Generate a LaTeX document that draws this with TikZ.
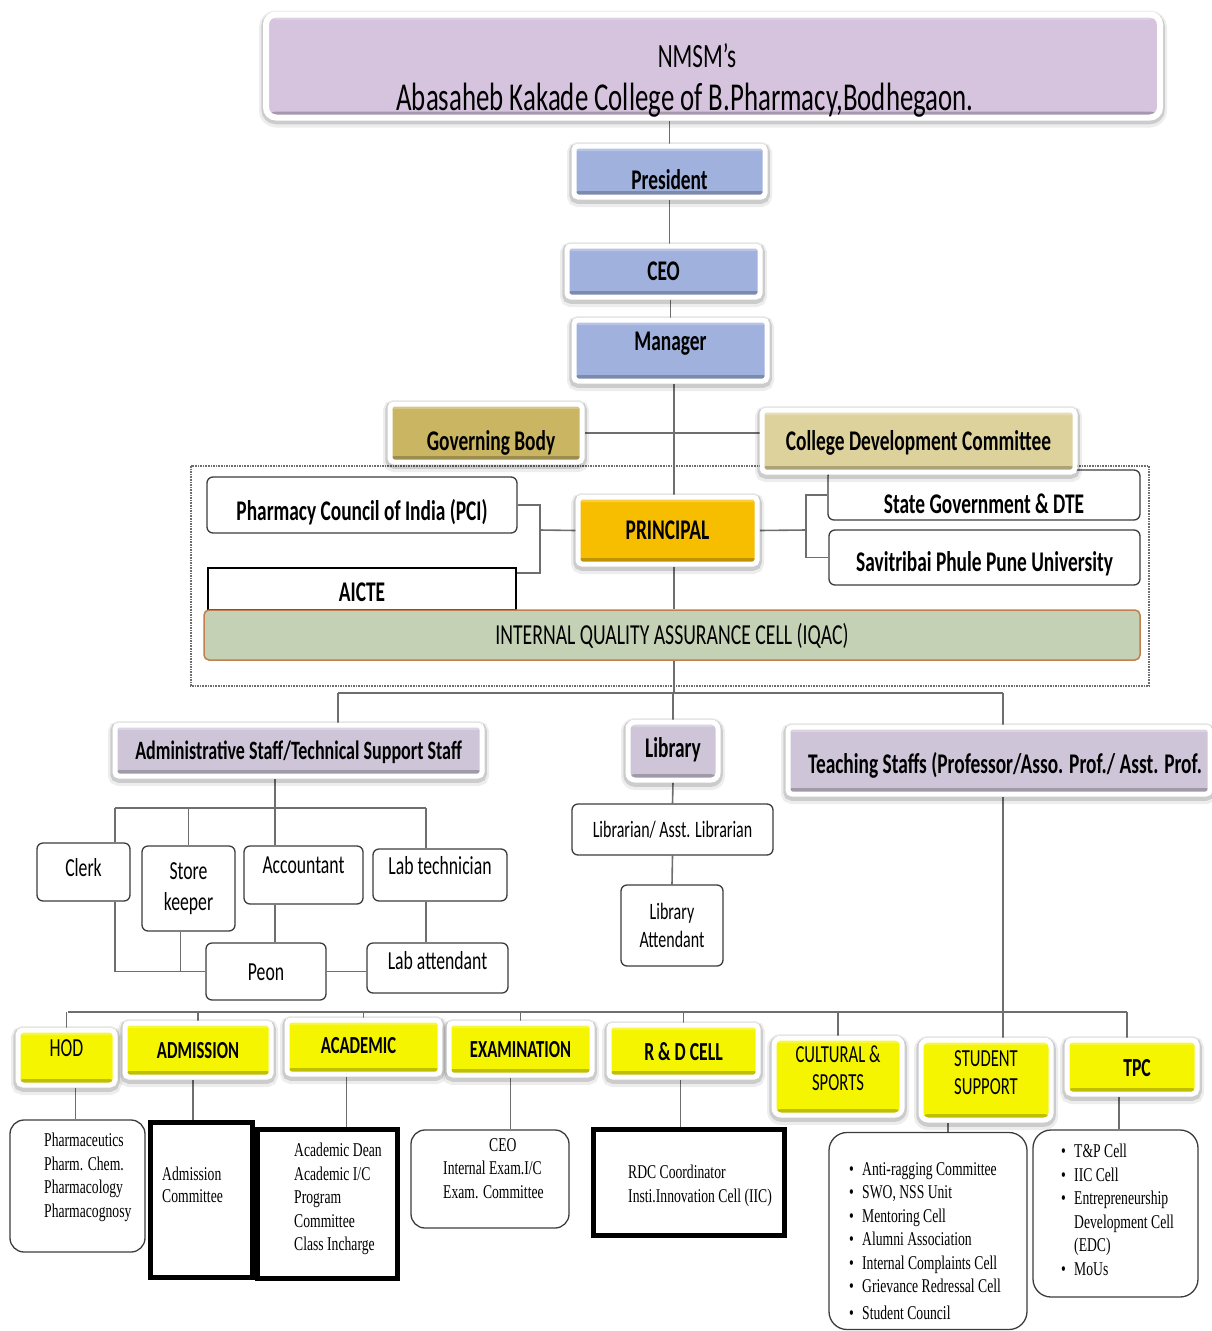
\documentclass[tikz,border=0pt]{standalone}
\usepackage{fontspec}
\setmainfont{Carlito}[FakeStretch=0.68]
\newfontfamily\tnr{Liberation Serif}[FakeStretch=0.70]
\usetikzlibrary{backgrounds}

\definecolor{titlepurple}{RGB}{214,196,222}
\definecolor{topblue}{RGB}{160,177,221}
\definecolor{gbgold}{RGB}{201,181,98}
\definecolor{cdckhaki}{RGB}{222,210,156}
\definecolor{prinorange}{RGB}{247,190,0}
\definecolor{iqacgreen}{RGB}{196,209,181}
\definecolor{iqacedge}{RGB}{192,128,80}
\definecolor{staffgray}{RGB}{206,198,216}
\definecolor{deptyellow}{RGB}{245,245,0}
\definecolor{linkgray}{RGB}{110,110,110}
\definecolor{edgegray}{RGB}{60,60,60}

\newcommand\boxfont{\bfseries\fontsize{28.5}{34}\selectfont}
\newcommand\smallbox{\fontsize{26}{31}\selectfont}
\newcommand\deptfont{\fontsize{24.5}{28}\selectfont}
\newcommand\listfont{\tnr\fontsize{19.5}{23.5}\selectfont}
\newcommand\blt{\makebox[13pt][l]{\textbullet}}

\tikzset{
  every node/.style={inner sep=0pt, text=black},
  framed/.style={draw=white, line width=5pt, fill=#1, rounded corners=4pt,
    preaction={draw=black, draw opacity=.07, line width=14pt, transform canvas={yshift=-3pt}},
    preaction={draw=black, draw opacity=.14, line width=9.5pt, transform canvas={yshift=-2pt}},
    path picture={
      \fill[black, opacity=.22] (path picture bounding box.south west) rectangle ([yshift=6pt]path picture bounding box.south east);
      \fill[white, opacity=.25] (path picture bounding box.north west) rectangle ([yshift=-5pt]path picture bounding box.north east);}},
  plain/.style={draw=edgegray, line width=1.3pt, fill=white, rounded corners=6pt},
  heavy/.style={draw=black, line width=5pt, fill=white},
  link/.style={draw=linkgray, line width=1.6pt},
  lbl/.style={text height=#1, text depth=0pt}, lbl/.default=18pt,
  lblup/.style={text depth=#1}
}

\begin{document}
\begin{tikzpicture}[x=1pt,y=-1pt]
\useasboundingbox (0,0) rectangle (1212,1331);

\coordinate (spine) at (674,0);
\coordinate (topbus) at (674,693);
\coordinate (busA) at (338,693);
\coordinate (busT) at (1003,693);
\coordinate (brL) at (540,530);
\coordinate (brR) at (806,530);
\coordinate (adbus) at (275,808);
\coordinate (adL) at (115,808);
\coordinate (adR) at (426,808);
\coordinate (dbus) at (68,1012);
\coordinate (dbusR) at (1127,1012);

\node[framed=titlepurple, rounded corners=10pt, line width=6pt, minimum width=894pt, minimum height=103pt] (title) at (713,66) {};
\node[lbl=22pt, font=\fontsize{34}{40}\selectfont] (nmsm) at (697,56) {NMSM’s};
\node[lbl=25pt, font=\fontsize{39.5}{44}\selectfont] (college) at (685,98) {Abasaheb Kakade College of B.Pharmacy,Bodhegaon.};

\node[framed=topblue, minimum width=191pt, minimum height=51pt, lbl=36pt, font=\boxfont] (pres) at (669.5,171.5) {President};
\node[framed=topblue, minimum width=193pt, minimum height=51pt, lbl, font=\boxfont] (ceo) at (663.5,271.5) {CEO};
\node[framed=topblue, minimum width=193pt, minimum height=61pt, lbl, lblup=18pt, font=\boxfont] (mgr) at (670.5,350.5) {Manager};
\node[framed=gbgold, minimum width=192pt, minimum height=58pt, lbl=34pt, font=\boxfont] (gb) at (486,433) {\hspace*{10pt}Governing Body};
\node[plain, minimum width=312pt, minimum height=50pt, lbl=36pt, font=\boxfont] (state) at (984,495) {State Government \& DTE};
\node[framed=cdckhaki, minimum width=313pt, minimum height=62pt, lbl, font=\boxfont] (cdc) at (918.5,441) {College Development Committee};
\node[plain, minimum width=311pt, minimum height=55pt, lbl=28pt, font=\boxfont] (sppu) at (984.5,557.5) {Savitribai Phule Pune University};
\node[plain, minimum width=310pt, minimum height=56pt, lbl=30pt, font=\boxfont] (pci) at (362,505) {Pharmacy Council of India (PCI)};
\node[draw=black, line width=1.3pt, fill=white, minimum width=308pt, minimum height=42pt, lbl=24pt, font=\boxfont] (aicte) at (362,589) {AICTE};
\node[framed=prinorange, minimum width=179pt, minimum height=67pt, lbl, font=\boxfont] (prin) at (667.5,530.5) {PRINCIPAL};
\node[draw=iqacedge, fill=iqacgreen, line width=1.5pt, rounded corners=5pt, minimum width=936pt, minimum height=50pt, lbl=19pt, font=\fontsize{29}{34}\selectfont] (iqac) at (672,635) {INTERNAL QUALITY ASSURANCE CELL (IQAC)};

\node[framed=staffgray, minimum width=367pt, minimum height=51pt, lbl=17pt, font=\bfseries\fontsize{26.5}{32}\selectfont] (admin) at (298.5,750.5) {Administrative Staff/Technical Support Staff};
\node[framed=staffgray, rounded corners=7pt, minimum width=90pt, minimum height=58pt, lbl, lblup=6pt, font=\boxfont] (lib) at (673,751) {Library};
\node[framed=staffgray, minimum width=422pt, minimum height=67pt, lbl=26pt, font=\boxfont] (teach) at (999,760.5) {\hspace*{12pt}Teaching Staffs (Professor/Asso. Prof./ Asst. Prof.};

\node[plain, minimum width=93pt, minimum height=58pt, lbl=17pt, lblup=8pt, font=\smallbox] (clerk) at (83.5,872) {Clerk};
\node[plain, minimum width=93pt, minimum height=85pt, align=center, font=\smallbox] (store) at (188.5,888.5) {Store\\keeper};
\node[plain, minimum width=119pt, minimum height=58pt, lbl=17pt, lblup=20pt, font=\smallbox] (acct) at (303.5,875) {Accountant};
\node[plain, minimum width=134pt, minimum height=52pt, lbl=17pt, lblup=18pt, font=\smallbox] (labtech) at (440,875) {Lab technician};
\node[plain, minimum width=120pt, minimum height=57pt, lbl=17pt, font=\smallbox] (peon) at (266,971.5) {Peon};
\node[plain, minimum width=141pt, minimum height=50pt, lbl=17pt, lblup=14pt, font=\smallbox] (labatt) at (437.5,968) {Lab attendant};
\node[plain, minimum width=201pt, minimum height=51pt, lbl=15pt, font=\fontsize{23.5}{28}\selectfont] (librarian) at (672.5,829.5) {Librarian/ Asst. Librarian};
\node[plain, minimum width=102pt, minimum height=81pt, align=center, font=\fontsize{23.5}{28}\selectfont] (libatt) at (672,925.5) {Library\\Attendant};

\node[framed=deptyellow, rounded corners=5pt, minimum width=97pt, minimum height=55pt, lbl=17pt, lblup=20pt, font=\smallbox] (hod) at (66.5,1057.5) {HOD};
\node[framed=deptyellow, minimum width=146pt, minimum height=54pt, lbl=16pt, font=\bfseries\deptfont] (adm) at (198,1050) {ADMISSION};
\node[framed=deptyellow, minimum width=153pt, minimum height=54pt, lbl=16pt, lblup=4pt, font=\bfseries\deptfont] (acad) at (363.5,1047) {ACADEMIC\hspace*{10pt}};
\node[framed=deptyellow, minimum width=143pt, minimum height=52pt, lbl=16pt, font=\bfseries\deptfont] (exam) at (520.5,1049) {EXAMINATION};
\node[framed=deptyellow, minimum width=149pt, minimum height=52pt, lbl=18pt, font=\bfseries\fontsize{26}{31}\selectfont] (rnd) at (683.5,1051) {R \& D CELL};
\node[framed=deptyellow, rounded corners=7pt, minimum width=128pt, minimum height=77pt, lbl=0pt, lblup=29pt, font=\deptfont] (cult) at (838,1076.5) {\begin{tabular}[t]{@{}c@{}}CULTURAL \&\\SPORTS\end{tabular}};
\node[framed=deptyellow, rounded corners=7pt, minimum width=130pt, minimum height=80pt, lbl=0pt, lblup=28pt, font=\deptfont] (stud) at (986,1080) {\begin{tabular}[t]{@{}c@{}}STUDENT\\SUPPORT\end{tabular}};
\node[framed=deptyellow, rounded corners=5pt, minimum width=130pt, minimum height=54pt, lbl=18pt, font=\bfseries\fontsize{26}{31}\selectfont] (tpc) at (1132,1067) {\hspace*{10pt}TPC};

\node[plain, rounded corners=14pt, minimum width=135pt, minimum height=132pt] (hodlist) at (77.5,1186) {};
\node[anchor=north west, align=left, font=\listfont] (hodtxt) at (44,1133) {Pharmaceutics\\Pharm. Chem.\\Pharmacology\\Pharmacognosy};
\node[heavy, minimum width=102pt, minimum height=155pt] (admlist) at (201.5,1200) {};
\node[anchor=north west, align=left, font=\listfont] (admtxt) at (162,1167) {Admission\\[-2pt]Committee};
\node[heavy, minimum width=140pt, minimum height=149pt] (acadlist) at (327.5,1204) {};
\node[anchor=north west, align=left, font=\listfont] (acadtxt) at (294,1143) {Academic Dean\\Academic I/C\\Program\\Committee\\Class Incharge};
\node[plain, rounded corners=14pt, minimum width=158pt, minimum height=98pt] (examlist) at (490,1179) {};
\node[anchor=north west, align=left, font=\listfont] (examtxt) at (443,1138) {\hspace*{46pt}CEO\\Internal Exam.I/C\\Exam. Committee};
\node[heavy, minimum width=191pt, minimum height=106pt] (rndlist) at (689,1182.5) {};
\node[anchor=north west, align=left, font=\listfont] (rndtxt) at (628,1165) {RDC Coordinator\\Insti.Innovation Cell (IIC)};
\node[plain, rounded corners=18pt, minimum width=198pt, minimum height=197pt] (studlist) at (928,1231) {};
\node[anchor=north west, align=left, font=\listfont] (studtxt) at (849,1162) {\blt Anti-ragging Committee\\\blt SWO, NSS Unit\\\blt Mentoring Cell\\\blt Alumni Association\\\blt Internal Complaints Cell\\\blt Grievance Redressal Cell\\[3pt]\blt Student Council};
\node[plain, rounded corners=18pt, minimum width=165pt, minimum height=167pt] (tpclist) at (1115.5,1213.5) {};
\node[anchor=north west, align=left, font=\listfont] (tpctxt) at (1061,1144) {\blt T\&P Cell\\\blt IIC Cell\\\blt Entrepreneurship\\\hspace*{13pt}Development Cell\\\hspace*{13pt}(EDC)\\\blt MoUs};

\begin{scope}[on background layer]
\draw[linkgray, line width=1.6pt, densely dotted] (191,466) rectangle (1149,686);
\draw[link] (pres.north) -- (pres.north |- title.south);
\draw[link] (pres.south) -- (pres.south |- ceo.north);
\draw[link] (mgr.north) -- (mgr.north |- ceo.south);
\draw[link] (mgr.south -| spine) -- (prin.north -| spine);
\draw[link] (gb.east) -- (gb.east -| cdc.west);
\draw[link] (pci.east) -| (brL) |- ([yshift=16pt]aicte.east);
\draw[link] (brL) -- (prin.west);
\draw[link] (prin.east) -- (brR);
\draw[link] (state.west) -| (brR) |- (sppu.west);
\draw[link] (prin.south -| spine) -- (iqac.north -| spine);
\draw[link] (iqac.south -| spine) -- (topbus);
\draw[link] (busA) -- (busT);
\draw[link] (busA) -- (busA |- admin.north);
\draw[link] (lib.north |- topbus) -- (lib.north);
\draw[link] (busT) -- (busT |- teach.north);
\draw[link] (adbus |- admin.south) -- (adbus);
\draw[link] (adL) -- (adR);
\draw[link] (adL) -- (adL |- clerk.north);
\draw[link] (store.north |- adbus) -- (store.north);
\draw[link] (adbus) -- (adbus |- acct.north);
\draw[link] (adR) -- (adR |- labtech.north);
\draw[link] (adL |- clerk.south) |- (peon.west);
\draw[link] ([xshift=-8pt]store.south) -- ([xshift=-8pt]store.south |- peon.west);
\draw[link] (adbus |- acct.south) -- (adbus |- peon.north);
\draw[link] (adR |- labtech.south) -- (adR |- labatt.north);
\draw[link] (peon.east) -- (peon.east -| labatt.west);
\draw[link] (lib.south) -- (librarian.north);
\draw[link] (librarian.south) -- (libatt.north);
\draw[link] (busT |- teach.south) -- (busT |- stud.north);
\draw[link] (dbus) -- (dbusR);
\foreach \d in {hod,adm,acad,exam,rnd,cult}
  \draw[link] (\d.north |- dbus) -- (\d.north);
\draw[link] (dbusR) -- (dbusR |- tpc.north);
\draw[link] ([xshift=9pt]hod.south) -- ([xshift=9pt]hod.south |- hodlist.north);
\draw[link] ([xshift=-5pt]adm.south) -- ([xshift=-5pt]adm.south |- admlist.north);
\draw[link] ([xshift=-17pt]acad.south) -- ([xshift=-17pt]acad.south |- acadlist.north);
\draw[link] ([xshift=-10pt]exam.south) -- ([xshift=-10pt]exam.south |- examlist.north);
\draw[link] ([xshift=-3pt]rnd.south) -- ([xshift=-3pt]rnd.south |- rndlist.north);
\draw[link] ([xshift=-38pt]stud.south) -- ([xshift=-38pt]stud.south |- studlist.north);
\draw[link] ([xshift=-13pt]tpc.south) -- ([xshift=-13pt]tpc.south |- tpclist.north);
\end{scope}
\end{tikzpicture}
\end{document}
